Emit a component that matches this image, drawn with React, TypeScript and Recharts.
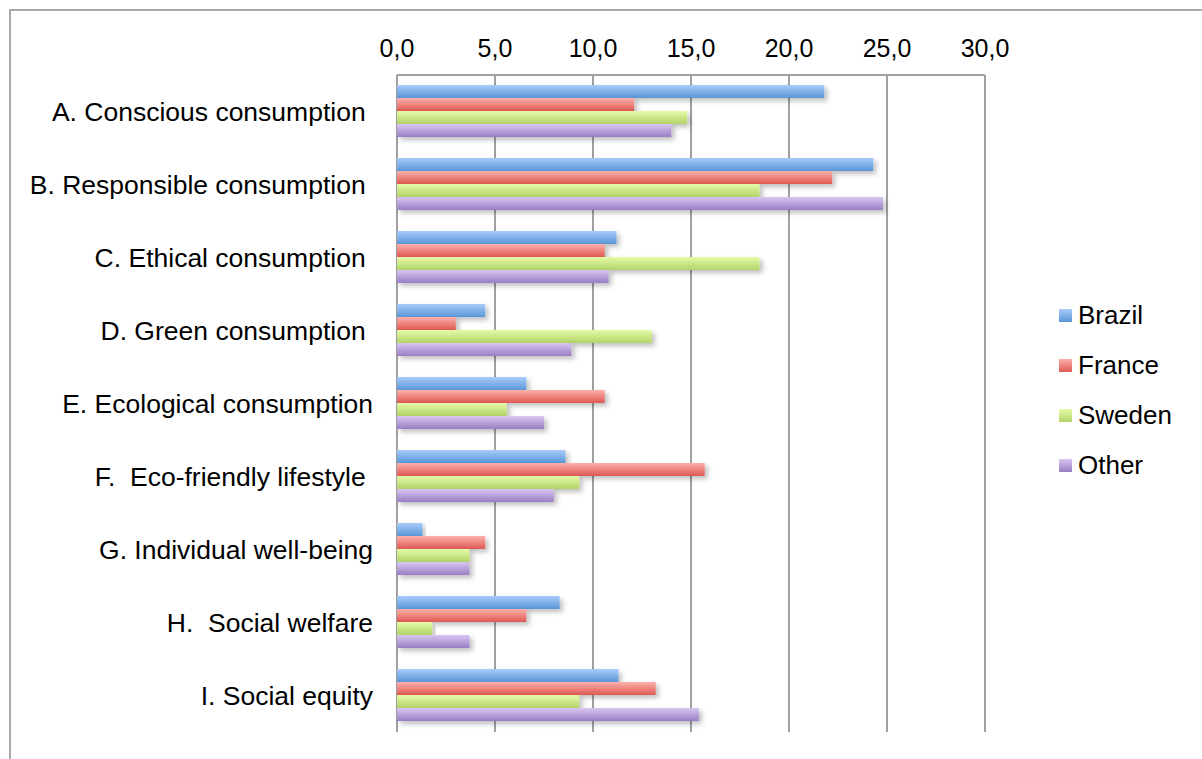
import { BarChart, Bar, XAxis, YAxis, CartesianGrid } from "recharts"

const categories = [
  "A. Conscious consumption ",
  "B. Responsible consumption ",
  "C. Ethical consumption ",
  "D. Green consumption ",
  "E. Ecological consumption",
  "F.  Eco-friendly lifestyle ",
  "G. Individual well-being",
  "H.  Social welfare",
  "I. Social equity",
]

const brazil = [21.8, 24.3, 11.2, 4.5, 6.6, 8.6, 1.3, 8.3, 11.3]
const france = [12.1, 22.2, 10.6, 3.0, 10.6, 15.7, 4.5, 6.6, 13.2]
const sweden = [14.8, 18.5, 18.5, 13.0, 5.6, 9.3, 3.7, 1.8, 9.3]
const other = [14.0, 24.8, 10.8, 8.9, 7.5, 8.0, 3.7, 3.7, 15.4]

const xTicks = [0, 5, 10, 15, 20, 25, 30]

const series = [
  { key: "Brazil", values: brazil, top: "#a8ccfa", bottom: "#5a97d8" },
  { key: "France", values: france, top: "#fdafab", bottom: "#de5a52" },
  { key: "Sweden", values: sweden, top: "#e5faa9", bottom: "#b2d468" },
  { key: "Other", values: other, top: "#d8c6f2", bottom: "#9a7ec4" },
]

const data = categories.map((name, i) => {
  const row: Record<string, string | number> = { name }
  series.forEach((s) => {
    row[s.key] = s.values[i]
  })
  return row
})

const FONT = "'Liberation Sans', Arial, Helvetica, sans-serif"

const formatTick = (v: number) => v.toFixed(1).replace(".", ",")

// category labels keep their trailing spaces, so whitespace is preserved
const CategoryTick = (props: any) => {
  const { x, y, payload } = props
  return (
    <text
      x={x}
      y={y}
      dy="0.36em"
      textAnchor="end"
      xmlSpace="preserve"
      style={{ whiteSpace: "pre" }}
      fontFamily={FONT}
      fontSize={26.5}
      fill="#000"
    >
      {payload.value}
    </text>
  )
}

export default function App() {
  return (
    <div style={{ position: "fixed", left: 0, top: 0, width: 1202, height: 759, overflow: "hidden", background: "#fff" }}>
      <div
        style={{
          position: "absolute",
          left: 9,
          top: 9,
          width: 1300,
          height: 900,
          border: "2px solid #a8a8a8",
        }}
      />
      <div style={{ position: "absolute", left: 0, top: 0 }}>
        <BarChart
          width={1202}
          height={759}
          data={data}
          layout="vertical"
          margin={{ top: 0, right: 217, bottom: 27, left: 0 }}
          barCategoryGap={10}
          barGap={0}
        >
          <defs>
            {series.map((s) => (
              <linearGradient key={s.key} id={`grad-${s.key}`} x1="0" y1="0" x2="0" y2="1">
                <stop offset="0%" stopColor={s.top} />
                <stop offset="100%" stopColor={s.bottom} />
              </linearGradient>
            ))}
            <filter id="barShadow" x="-5%" y="-30%" width="115%" height="190%">
              <feDropShadow dx="3" dy="3" stdDeviation="2.5" floodColor="#000" floodOpacity="0.25" />
            </filter>
          </defs>
          <CartesianGrid horizontal={false} stroke="#a0a0a0" strokeWidth={2} />
          <XAxis
            type="number"
            orientation="top"
            domain={[0, 30]}
            ticks={xTicks}
            tickFormatter={formatTick}
            height={75}
            axisLine={{ stroke: "#a0a0a0", strokeWidth: 2 }}
            tickLine={false}
            tickMargin={12}
            tick={{ fontFamily: FONT, fontSize: 25, fill: "#000" }}
            interval={0}
          />
          <YAxis
            type="category"
            dataKey="name"
            width={397}
            axisLine={false}
            tickLine={false}
            tickMargin={18}
            tick={<CategoryTick />}
            interval={0}
          />
          {series.map((s) => (
            <Bar
              key={s.key}
              dataKey={s.key}
              fill={`url(#grad-${s.key})`}
              filter="url(#barShadow)"
              isAnimationActive={false}
            />
          ))}
        </BarChart>
      </div>
      <div style={{ position: "absolute", left: 1059, top: 290, fontFamily: FONT, fontSize: 26, color: "#000" }}>
        {series.map((s) => (
          <div key={s.key} style={{ display: "flex", alignItems: "center", height: 50 }}>
            <span
              style={{
                width: 13,
                height: 13,
                marginRight: 6,
                background: `linear-gradient(${s.top}, ${s.bottom})`,
              }}
            />
            <span>{s.key}</span>
          </div>
        ))}
      </div>
    </div>
  )
}
